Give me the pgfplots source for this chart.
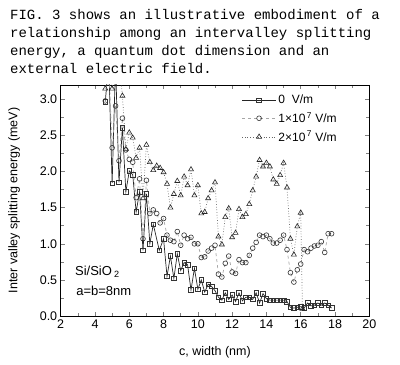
\documentclass[border=0pt]{standalone}
\usepackage{fontspec}
\setmainfont{Liberation Sans}
\newfontfamily\courier{Liberation Mono}
\usepackage{pgfplots}
\pgfplotsset{compat=1.18}
\begin{document}
\begin{tikzpicture}
\path[use as bounding box] (0bp,0bp) rectangle (400bp,365bp);
\begin{scope}[every node/.style={anchor=base west, inner sep=0pt, font=\courier\fontsize{14bp}{18bp}\selectfont}]
\node at (10bp,345bp) {FIG. 3 shows an illustrative embodiment of a};
\node at (10bp,327bp) {relationship among an intervalley splitting};
\node at (10bp,309bp) {energy, a quantum dot dimension and an};
\node at (10bp,291bp) {external electric field.};
\end{scope}
\begin{axis}[
  at={(60.7bp,49bp)}, anchor=south west,
  scale only axis, width=308.6bp, height=231bp,
  xmin=2, xmax=20, ymin=0, ymax=3.2,
  xtick={2,4,...,20}, ytick={0,0.5,...,3.0},
  minor x tick num=1, minor y tick num=1,
  axis line style={line width=0.8bp},
  major tick style={line width=0.6bp}, minor tick style={line width=0.6bp},
  tick label style={font=\fontsize{12.5bp}{14bp}\selectfont},
  /pgf/number format/assume math mode=true,
  yticklabel style={/pgf/number format/.cd, fixed, fixed zerofill, precision=1},
  xlabel={c, width (nm)},
  ylabel={Inter valley splitting energy (meV)},
  label style={font=\fontsize{12.5bp}{14bp}\selectfont},
  xlabel style={at={(axis description cs:0.5,-0.155)}, anchor=center},
  ylabel style={at={(axis description cs:-0.151,0.5)}, anchor=center},
  legend style={draw=none, fill=none, at={(axis description cs:0.586,0.965)}, anchor=north west,
    font=\fontsize{12bp}{14bp}\selectfont, row sep=3bp, inner sep=0pt, cells={anchor=west}},
  legend image code/.code={\draw[mark repeat=2,mark phase=2,#1] plot coordinates {(0bp,0bp) (17bp,0bp) (34bp,0bp)};},
]
\addplot[black!85, line width=0.7bp, mark=square, mark size=2.3bp, mark options={solid, fill=white, line width=0.6bp, draw=black!80}] coordinates {
(4.6,2.97) (4.8,3.5) (5.0,1.84) (5.2,3.5) (5.4,1.85) (5.6,2.61) (5.8,1.72) (6.0,2.01) (6.2,1.96) (6.4,1.44)
(6.6,1.72) (6.8,0.91) (7.0,1.69) (7.2,1.00) (7.4,1.27) (7.75,0.91) (8.0,1.07) (8.2,0.55) (8.4,0.83) (8.6,0.52)
(8.8,0.86) (9.0,0.63) (9.2,0.74) (9.4,0.71) (9.6,0.36) (9.8,0.66) (10.0,0.37) (10.2,0.50) (10.4,0.33) (10.6,0.44)
(10.8,0.41) (11.0,0.35) (11.2,0.26) (11.4,0.22) (11.6,0.32) (11.8,0.23) (12.0,0.29) (12.2,0.20) (12.4,0.32) (12.6,0.21)
(12.8,0.26) (13.0,0.26) (13.2,0.23) (13.4,0.32) (13.6,0.18) (13.8,0.31) (14.0,0.24) (14.2,0.22) (14.4,0.22) (14.6,0.22)
(14.8,0.22) (15.0,0.22) (15.2,0.20) (15.4,0.12) (15.6,0.11) (15.8,0.12) (16.0,0.13) (16.2,0.11) (16.4,0.18) (16.6,0.14)
(16.8,0.15) (17.0,0.18) (17.2,0.15) (17.4,0.18) (17.6,0.15) (17.8,0.11)
};
\addlegendentry{0\ \ V/m}
\addplot[black!35, dashed, line width=0.7bp, mark=o, mark size=2.4bp, mark options={solid, draw=black!80, fill=white, line width=0.6bp}] coordinates {
(4.6,2.98) (4.8,3.5) (5.0,2.33) (5.2,2.91) (5.4,2.15) (5.6,2.74) (5.8,2.30) (6.0,2.17) (6.2,2.13) (6.4,1.64)
(6.6,1.90) (6.8,1.07) (7.0,1.88) (7.2,1.42) (7.4,1.47) (7.6,1.42) (7.8,1.29) (8.0,1.35) (8.2,1.12) (8.4,1.05)
(8.6,1.03) (8.8,1.17) (9.0,0.98) (9.2,1.12) (9.4,1.07) (9.6,1.09) (9.8,1.00) (10.0,1.00) (10.2,0.81) (10.4,0.82)
(10.6,0.90) (10.8,0.94) (11.0,0.98) (11.2,0.58) (11.4,0.54) (11.6,0.73) (11.8,0.83) (12.0,0.61) (12.2,0.59) (12.4,0.78)
(12.6,0.74) (12.8,0.74) (13.0,0.84) (13.2,0.94) (13.4,1.02) (13.6,1.12) (13.8,1.10) (14.0,1.12) (14.2,1.07) (14.4,1.01)
(14.6,1.01) (14.8,1.05) (15.0,1.12) (15.2,0.92) (15.4,0.60) (15.6,0.47) (15.8,0.64) (16.0,0.72) (16.2,0.92) (16.4,0.89)
(16.6,0.94) (16.8,0.97) (17.0,0.98) (17.2,1.03) (17.4,0.88) (17.6,1.14) (17.8,1.14)
};
\addlegendentry{1×10\textsuperscript{\,7} V/m}
\addplot[black!60, dotted, line width=0.7bp, mark=triangle, mark size=2.9bp, mark options={solid, draw=black!85, fill=white, line width=0.6bp}] coordinates {
(4.6,3.15) (4.8,3.5) (5.0,3.15) (5.2,3.5) (5.4,3.5) (5.6,3.05) (5.8,2.31) (6.0,2.54) (6.2,2.47) (6.4,2.19)
(6.6,2.33) (6.8,1.63) (7.0,2.37) (7.2,2.13) (7.4,2.02) (7.6,2.08) (7.8,2.05) (8.0,1.99) (8.2,1.83) (8.4,1.50)
(8.6,1.69) (8.8,1.87) (9.0,1.67) (9.2,1.93) (9.4,1.81) (9.6,2.03) (9.8,1.67) (10.0,1.81) (10.2,1.42) (10.4,1.44)
(10.6,1.63) (10.8,1.74) (11.0,1.85) (11.2,1.10) (11.4,0.99) (11.6,1.37) (11.8,1.49) (12.0,1.09) (12.2,1.15) (12.4,1.48)
(12.6,1.37) (12.8,1.41) (13.0,1.55) (13.2,1.74) (13.4,1.93) (13.6,2.16) (13.8,2.07) (14.0,2.12) (14.2,2.07) (14.4,1.89)
(14.6,1.83) (14.8,1.95) (15.0,2.12) (15.2,1.78) (15.4,1.07) (15.6,0.85) (15.8,1.24) (16.0,1.43) (16.1,0.10)
};
\addlegendentry{2×10\textsuperscript{\,7} V/m}
\node[anchor=base west, inner sep=0pt, font=\fontsize{13bp}{15bp}\selectfont] at (axis cs:2.83,0.567) {Si/SiO\,\textsubscript{2}};
\node[anchor=base west, inner sep=0pt, font=\fontsize{13bp}{15bp}\selectfont] at (axis cs:2.9,0.29) {a=b=8nm};
\end{axis}
\end{tikzpicture}
\end{document}
